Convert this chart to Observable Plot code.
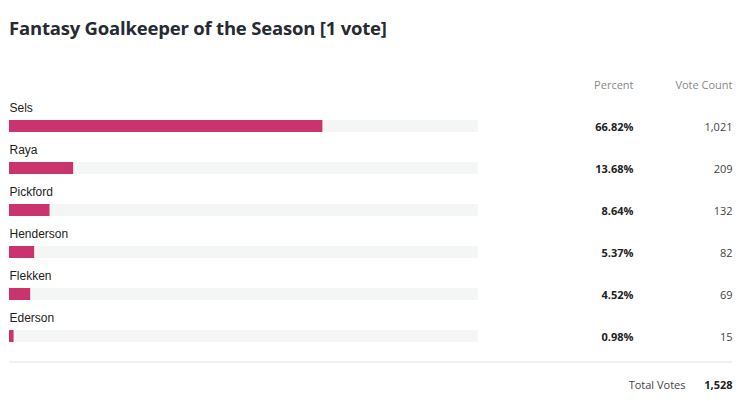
<!DOCTYPE html>
<html>
<head>
<meta charset="utf-8">
<script src="https://cdn.jsdelivr.net/npm/d3@7"></script>
<script src="https://cdn.jsdelivr.net/npm/@observablehq/plot@0.6"></script>
<style>
  html, body { margin: 0; padding: 0; background: #fff; }
  #title { height: 56px; box-sizing: border-box; padding: 15px 0 0 9px;
    font-family: "Open Sans", sans-serif; font-weight: 700; font-size: 18.5px; color: #262b33; letter-spacing: -0.2px; }
  svg { display: block; }
</style>
</head>
<body>
<div id="title">Fantasy Goalkeeper of the Season [1 vote]</div>
<div id="chart"></div>
<script>
const names = ["Sels", "Raya", "Pickford", "Henderson", "Flekken", "Ederson"];
const percents = [66.82, 13.68, 8.64, 5.37, 4.52, 0.98];
const votes = [1021, 209, 132, 82, 69, 15];
const totalVotes = 1528;
const headers = ["Percent", "Vote Count"];
const totalLabel = "Total Votes";

const rows = names.map((n, i) => ({name: n, pct: percents[i], votes: votes[i]}));
const fmt = d3.format(",");
const last = names[names.length - 1];

const barColor = "#c9336e";
const numFont = "'Open Sans', sans-serif";

const plot = Plot.plot({
  width: 742,
  height: 345,
  marginLeft: 9,
  marginRight: 10,
  marginTop: 0,
  marginBottom: 0,
  x: {domain: [0, 100], range: [9, 478], axis: null},
  y: {domain: names, type: "band", range: [42, 42 + 6 * 42.4], padding: 0, axis: null},
  marks: [
    // track
    Plot.barX(rows, {y: "name", x1: 0, x2: 100, fill: "#f4f5f5", insetTop: 21, insetBottom: 9}),
    // value bars
    Plot.barX(rows, {y: "name", x1: 0, x2: "pct", fill: barColor, insetTop: 21, insetBottom: 9}),
    // names
    Plot.text(rows, {y: "name", x: 0, text: "name", textAnchor: "start", dy: -12,
      fontFamily: "'Liberation Sans', Arial, sans-serif", fontSize: 12, fill: "#222"}),
    // percent
    Plot.text(rows, {y: "name", x: 100, dx: 155, dy: 6.5, text: d => d.pct.toFixed(2) + "%", textAnchor: "end",
      fontFamily: numFont, fontWeight: 700, fontSize: 11, fill: "#222"}),
    // votes
    Plot.text(rows, {y: "name", x: 100, dx: 254, dy: 6.5, text: d => fmt(d.votes), textAnchor: "end",
      fontFamily: numFont, fontSize: 11, fill: "#444"}),
    // headers
    Plot.text([headers[0]], {y: () => names[0], x: 100, dx: 155, dy: -35.5, text: d => d, textAnchor: "end",
      fontFamily: numFont, fontSize: 11, fill: "#888"}),
    Plot.text([headers[1]], {y: () => names[0], x: 100, dx: 254, dy: -35.5, text: d => d, textAnchor: "end",
      fontFamily: numFont, fontSize: 11, fill: "#888"}),
    // divider
    Plot.ruleY([last], {y: d => d, dy: 31.5, stroke: "#e2e2e2", strokeWidth: 1}),
    // total
    Plot.text([totalLabel], {y: () => last, x: 100, dx: 207, dy: 54.5, text: d => d, textAnchor: "end",
      fontFamily: numFont, fontSize: 11, fill: "#444"}),
    Plot.text([totalVotes], {y: () => last, x: 100, dx: 254, dy: 54.5, text: d => fmt(d), textAnchor: "end",
      fontFamily: numFont, fontWeight: 700, fontSize: 11, fill: "#222"})
  ]
});
document.getElementById("chart").append(plot);
</script>
</body>
</html>
